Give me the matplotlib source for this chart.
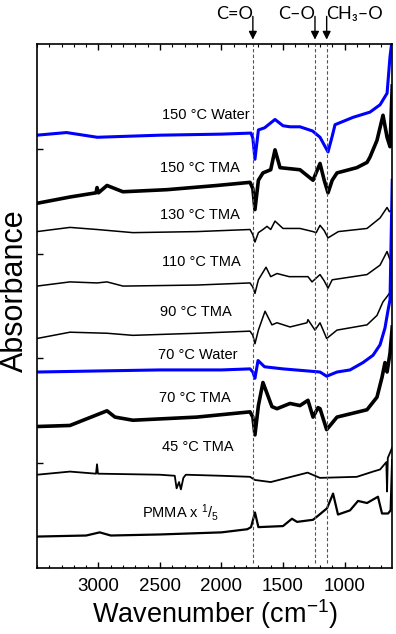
import matplotlib
matplotlib.use("Agg")
import matplotlib.pyplot as plt
from matplotlib.ticker import MultipleLocator

plt.rcParams['font.family'] = ['Liberation Sans', 'DejaVu Sans']
plt.rcParams['mathtext.fontset'] = 'custom'
plt.rcParams['mathtext.rm'] = 'Liberation Sans'
plt.rcParams['mathtext.it'] = 'Liberation Sans:italic'

# spectra (wavenumber, absorbance with offsets)
w150_water = [3500, 3260, 3010, 2500, 2000, 1760, 1745, 1728, 1700, 1650, 1565, 1500, 1443, 1362, 1260, 1199,
              1134, 1100, 1077, 931, 793, 711, 654, 630, 612]
a150_water = [4.13, 4.155, 4.11, 4.13, 4.14, 4.15, 4.10, 3.90, 4.18, 4.20, 4.28, 4.22, 4.21, 4.21, 4.17, 4.11,
              3.97, 4.12, 4.23, 4.30, 4.35, 4.42, 4.53, 4.88, 5.05]

w150_tma = [3500, 3232, 3020, 3012, 3000, 2931, 2801, 2443, 2037, 1768, 1745, 1728, 1700, 1663, 1600, 1565,
            1524, 1362, 1256, 1199, 1165, 1134, 1100, 1061, 900, 817, 793, 736, 687, 654, 630, 612]
a150_tma = [3.48, 3.54, 3.58, 3.63, 3.58, 3.65, 3.59, 3.61, 3.65, 3.68, 3.62, 3.42, 3.70, 3.77, 3.80, 3.99,
            3.82, 3.80, 3.70, 3.86, 3.70, 3.58, 3.70, 3.77, 3.82, 3.87, 3.92, 4.08, 4.32, 4.11, 4.02, 4.60]

w130_tma = [3500, 3232, 3012, 2720, 2200, 1768, 1745, 1728, 1700, 1663, 1630, 1600, 1565, 1500, 1362, 1256,
            1230, 1199, 1165, 1134, 1050, 817, 711, 654, 635, 612]
a130_tma = [3.21, 3.25, 3.23, 3.20, 3.21, 3.23, 3.18, 3.11, 3.20, 3.23, 3.26, 3.23, 3.31, 3.24, 3.24, 3.21,
            3.20, 3.27, 3.22, 3.15, 3.21, 3.24, 3.34, 3.44, 3.40, 3.42]

w110_tma = [3500, 3232, 3012, 2931, 2800, 2200, 1768, 1745, 1728, 1700, 1638, 1600, 1549, 1450, 1297, 1264,
            1199, 1165, 1134, 1100, 817, 711, 654, 630, 612]
a110_tma = [2.69, 2.73, 2.72, 2.73, 2.69, 2.70, 2.72, 2.68, 2.62, 2.75, 2.87, 2.78, 2.81, 2.78, 2.78, 2.73,
            2.80, 2.74, 2.67, 2.75, 2.80, 2.89, 3.02, 2.94, 3.00]

w90_tma = [3500, 3232, 2931, 2720, 2200, 1768, 1745, 1728, 1700, 1646, 1590, 1549, 1443, 1305, 1297, 1240,
           1199, 1145, 1061, 817, 736, 687, 654, 630, 612]
a90_tma = [2.19, 2.25, 2.24, 2.22, 2.24, 2.26, 2.22, 2.14, 2.27, 2.45, 2.32, 2.34, 2.30, 2.34, 2.37, 2.27,
           2.34, 2.19, 2.27, 2.32, 2.41, 2.54, 2.59, 2.63, 2.65]

w70_water = [3500, 3012, 2500, 2000, 1768, 1745, 1728, 1703, 1650, 1500, 1297, 1199, 1145, 1061, 955, 850,
             768, 711, 671, 646, 630, 612]
a70_water = [1.87, 1.88, 1.89, 1.89, 1.90, 1.87, 1.81, 1.98, 1.92, 1.90, 1.88, 1.87, 1.83, 1.87, 1.89, 1.96,
             2.03, 2.13, 2.29, 2.46, 2.56, 3.70]

w70_tma = [3500, 3232, 2931, 2866, 2720, 2200, 1768, 1745, 1728, 1700, 1663, 1590, 1549, 1443, 1362, 1297,
           1256, 1215, 1199, 1145, 1061, 817, 736, 695, 671, 654, 630, 612]
a70_tma = [1.35, 1.36, 1.50, 1.44, 1.41, 1.44, 1.49, 1.44, 1.27, 1.55, 1.77, 1.54, 1.52, 1.57, 1.55, 1.60,
           1.44, 1.53, 1.52, 1.32, 1.44, 1.51, 1.63, 1.82, 1.96, 1.87, 2.05, 2.30]

w45_tma = [3500, 3232, 3020, 3012, 3004, 2500, 2380, 2365, 2345, 2330, 2310, 2290, 2000, 1768, 1728, 1600,
           1300, 1200, 900, 768, 711, 660, 654, 648, 630, 612]
a45_tma = [0.89, 0.92, 0.90, 0.99, 0.90, 0.89, 0.88, 0.76, 0.82, 0.75, 0.86, 0.89, 0.88, 0.87, 0.84, 0.82,
           0.91, 0.86, 0.87, 0.92, 0.94, 1.01, 0.73, 1.05, 1.10, 1.15]

w_pmma = [3500, 3100, 2990, 2900, 2500, 2000, 1790, 1760, 1728, 1700, 1500, 1427, 1386, 1256, 1224, 1142,
          1093, 1053, 955, 890, 817, 728, 695, 646, 625, 612]
a_pmma = [0.30, 0.31, 0.34, 0.31, 0.32, 0.34, 0.37, 0.39, 0.53, 0.39, 0.40, 0.47, 0.44, 0.46, 0.49, 0.57,
          0.71, 0.51, 0.55, 0.64, 0.62, 0.68, 0.52, 0.52, 0.55, 1.03]

labels = ['150 °C Water', '150 °C TMA', '130 °C TMA', '110 °C TMA', '90 °C TMA',
          '70 °C Water', '70 °C TMA', '45 °C TMA', r'PMMA x $^{\mathrm{1}}$/$_{\mathrm{5}}$']
bands = [1745, 1240, 1145]
band_names = ['C=O', 'C–O', 'CH₃–O']

fig = plt.figure(figsize=(3.96, 6.34), dpi=100)
ax = fig.add_axes([0.0934, 0.1041, 0.8977, 0.8265])

series = [(w150_water, a150_water, 'blue', 2.2), (w150_tma, a150_tma, 'black', 2.6),
          (w130_tma, a130_tma, 'black', 1.1), (w110_tma, a110_tma, 'black', 1.1),
          (w90_tma, a90_tma, 'black', 1.1), (w70_water, a70_water, 'blue', 2.2),
          (w70_tma, a70_tma, 'black', 2.6), (w45_tma, a45_tma, 'black', 1.3),
          (w_pmma, a_pmma, 'black', 1.6)]
for w, a, c, lw in series:
    ax.plot(w, a, color=c, lw=lw, solid_joinstyle='round')

# label positions (left x in cm-1, y centre)
lab_pos = [(2480, 4.32), (2500, 3.82), (2500, 3.37), (2480, 2.92), (2500, 2.44),
           (2520, 2.03), (2510, 1.62), (2480, 1.15), (2650, 0.53)]
for (lx, ly), t in zip(lab_pos, labels):
    ax.text(lx, ly, t, fontsize=10.5, ha='left', va='center')

for b in bands:
    ax.axvline(b, ymin=0.01, ymax=1, color='#555555', lw=0.8, ls=(0, (3, 2)))

# arrows above the frame
tr = ax.get_xaxis_transform()
for b in bands:
    ax.annotate('', xy=(b, 1.003), xytext=(b, 1.058), xycoords=tr, textcoords=tr,
                arrowprops=dict(arrowstyle='-|>', color='k', lw=1, mutation_scale=12), annotation_clip=False)
name_x = [1890, 1390, 915]
for nx, t in zip(name_x, band_names):
    ax.text(nx, 1.058, t, transform=tr, fontsize=13, ha='center', va='center', family=['Lato', 'DejaVu Sans'])

ax.set_xlim(3500, 610)
ax.set_ylim(0, 5)
ax.xaxis.set_major_locator(MultipleLocator(500))
ax.xaxis.set_minor_locator(MultipleLocator(100))
ax.set_xticks([3000, 2500, 2000, 1500, 1000])
ax.set_yticks([1, 2, 3, 4])
ax.set_yticklabels([])
ax.tick_params(axis='x', which='major', direction='in', length=4.5, width=1, top=True, labelsize=13.5, pad=7)
ax.tick_params(axis='x', which='minor', direction='in', length=2.2, width=0.8, top=True)
ax.tick_params(axis='y', which='major', direction='in', length=4.5, width=1, right=False)
for s in ax.spines.values():
    s.set_linewidth(1.2)

ax.set_xlabel(r'Wavenumber (cm$^{\mathrm{-1}}$)', fontsize=19.5, labelpad=2)
ax.set_ylabel('Absorbance', fontsize=22)
ax.yaxis.set_label_coords(-0.02, 0.53)

plt.savefig('out.png', dpi=100)
